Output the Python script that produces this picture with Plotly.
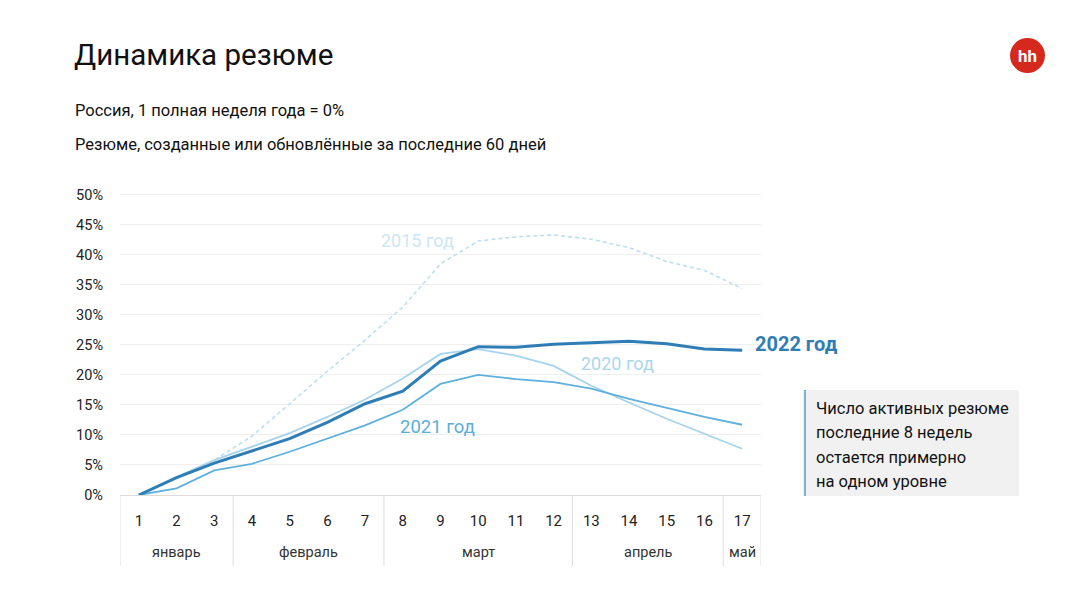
import plotly.graph_objects as go

weeks = list(range(1, 18))
y2015 = [0, 2.9, 5.8, 9.8, 15.2, 20.6, 25.8, 31.3, 38.5, 42.3, 43.0, 43.3, 42.6, 41.2, 38.9, 37.4, 34.4]
y2020 = [0, 3.0, 5.8, 8.0, 10.3, 13.0, 15.9, 19.4, 23.5, 24.3, 23.2, 21.5, 18.2, 15.4, 12.7, 10.2, 7.7]
y2021 = [0, 1.1, 4.1, 5.2, 7.2, 9.4, 11.6, 14.2, 18.5, 20.0, 19.3, 18.8, 17.7, 16.0, 14.5, 13.0, 11.7]
y2022 = [0, 2.9, 5.3, 7.3, 9.4, 12.1, 15.2, 17.3, 22.3, 24.7, 24.6, 25.1, 25.4, 25.6, 25.2, 24.3, 24.1]
months = ["январь", "февраль", "март", "апрель", "май"]
month_bounds = [0.5, 3.5, 7.5, 12.5, 16.5, 17.5]
yticks = [0, 5, 10, 15, 20, 25, 30, 35, 40, 45, 50]
note_lines = ["Число активных резюме", "последние 8 недель", "остается примерно", "на одном уровне"]

OFF = 8  # default page body margin
W, H = 1080 - 2 * OFF, 604 - 2 * OFF
L, R, T, B = 120, 761, 193, 495  # target pixel positions in the screenshot

def px(x):
    return (x - L) / (R - L)

def py(y):
    return (B - y) / (B - T)

FONT = "Roboto"

fig = go.Figure()
fig.add_trace(go.Scatter(x=weeks, y=y2015, mode="lines",
                         line=dict(color="#bcdff1", width=1.6, dash="4px,3px")))
fig.add_trace(go.Scatter(x=weeks, y=y2020, mode="lines",
                         line=dict(color="#a6d3ec", width=1.8)))
fig.add_trace(go.Scatter(x=weeks, y=y2021, mode="lines",
                         line=dict(color="#5fb0dc", width=1.8)))
fig.add_trace(go.Scatter(x=weeks, y=y2022, mode="lines",
                         line=dict(color="#2f7db5", width=3)))

shapes = []
for b in month_bounds:
    shapes.append(dict(type="line", xref="x", yref="paper", x0=b, x1=b,
                       y0=0, y1=py(566), line=dict(color="#dedede", width=1)))
shapes.append(dict(type="rect", xref="paper", yref="paper",
                   x0=px(803), x1=px(1019), y0=py(390), y1=py(496),
                   fillcolor="#f1f1f1", line=dict(width=0), layer="below"))
shapes.append(dict(type="line", xref="paper", yref="paper",
                   x0=px(805), x1=px(805), y0=py(390), y1=py(496),
                   line=dict(color="#7db5da", width=2)))
shapes.append(dict(type="circle", xref="paper", yref="paper",
                   x0=px(1010), x1=px(1045), y0=py(38), y1=py(73),
                   fillcolor="#d6291d", line=dict(width=0)))

def ann(x, y, text, size, color, xanchor="left", xref="paper"):
    return dict(x=x, y=py(y), xref=xref, yref="paper", text=text, xanchor=xanchor,
                yanchor="middle", showarrow=False,
                font=dict(size=size, color=color, family=FONT))

annotations = []
for i, m in enumerate(months):
    cx = (month_bounds[i] + month_bounds[i + 1]) / 2
    annotations.append(ann(cx, 552, m, 14.5, "#333333", xanchor="center", xref="x"))
annotations += [
    ann(px(379), 240, "2015 год", 18, "#cce6f4"),
    ann(px(579), 363, "2020 год", 18, "#a9d6ee"),
    ann(px(398), 427, "2021 год", 18.5, "#5aaed9"),
    ann(px(753), 344, "<b>2022 год</b>", 20, "#2f7db5"),
    ann(px(72), 55, "Динамика резюме", 29.5, "#111111"),
    ann(px(73), 110, "Россия, 1 полная неделя года = 0%", 16.5, "#111111"),
    ann(px(73), 144, "Резюме, созданные или обновлённые за последние 60 дней", 16.5, "#111111"),
    ann(px(1027.5), 55.5, "<b>hh</b>", 17, "#ffffff", xanchor="center"),
]
for i, t in enumerate(note_lines):
    annotations.append(ann(px(814), 408 + i * 24.5, t, 16.5, "#111111"))

fig.update_layout(
    width=W, height=H,
    margin=dict(l=L - OFF, r=W - (R - OFF), t=T - OFF, b=H - (B - OFF), pad=0),
    paper_bgcolor="white", plot_bgcolor="white",
    showlegend=False,
    shapes=shapes, annotations=annotations,
    font=dict(family=FONT, color="#222222"),
    xaxis=dict(range=[0.5, 17.5], tickvals=weeks, ticktext=[str(w) for w in weeks],
               showgrid=False, zeroline=False, showline=True, linecolor="#dcdcdc", linewidth=1,
               ticks="", ticklabelstandoff=12, tickfont=dict(size=15, color="#222222", family=FONT),
               fixedrange=True),
    yaxis=dict(range=[0, 50.3], tickvals=yticks, ticktext=[f"{v}%" for v in yticks],
               showgrid=True, gridcolor="#efefef", gridwidth=1, zeroline=False,
               ticks="", ticklabelstandoff=16, tickfont=dict(size=14.5, color="#222222", family=FONT),
               fixedrange=True),
)

fig.write_html("out.html")
